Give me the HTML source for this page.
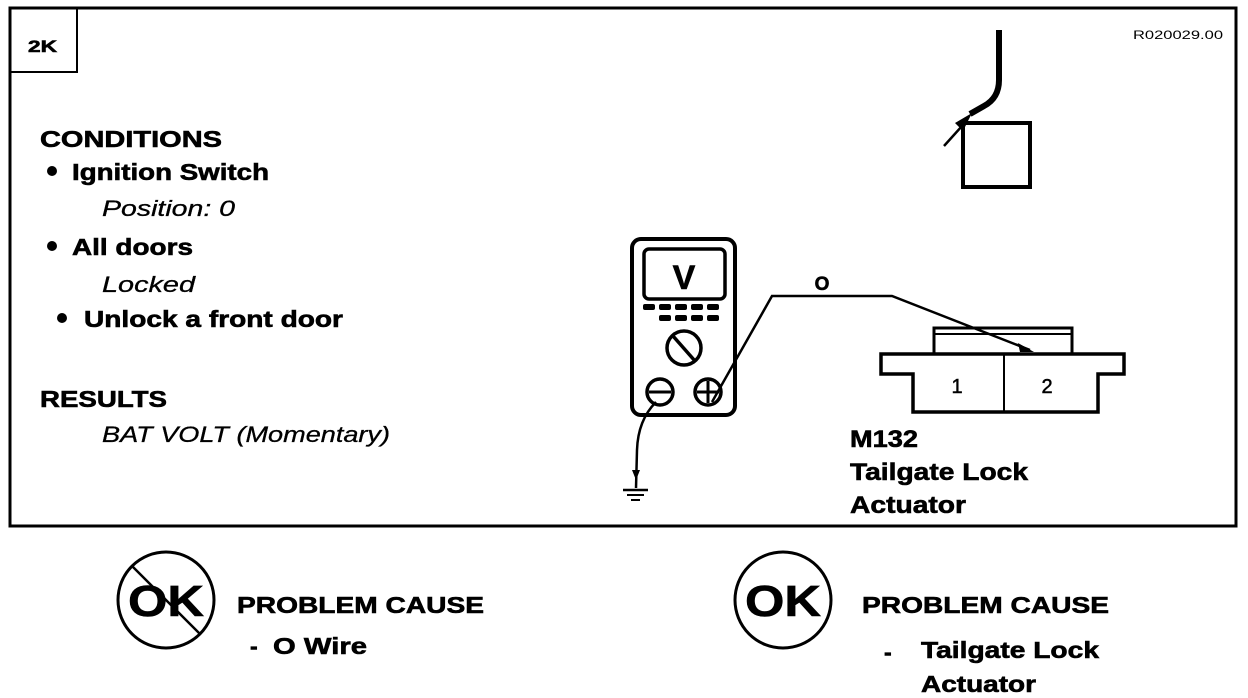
<!DOCTYPE html>
<html><head><meta charset="utf-8"><style>
html,body{margin:0;padding:0;background:#fff;}
svg{display:block;}
text{font-family:"Liberation Sans",Arial,sans-serif;fill:#000;}
.b{font-weight:bold;stroke:#000;stroke-width:0.6;}
.i{font-style:italic;stroke:#000;stroke-width:0.3;}
</style></head><body>
<svg width="1248" height="698" viewBox="0 0 1248 698" xmlns="http://www.w3.org/2000/svg">
<rect x="10" y="8" width="1226" height="518" fill="none" stroke="#000" stroke-width="3"/>
<rect x="10" y="8" width="67" height="64" fill="none" stroke="#000" stroke-width="2"/>
<text x="28" y="52" class="b" font-size="17" textLength="29" lengthAdjust="spacingAndGlyphs">2K</text>
<text x="1133" y="39" font-size="12" textLength="90" lengthAdjust="spacingAndGlyphs">R020029.00</text>

<text x="40" y="147" class="b" font-size="23" textLength="182" lengthAdjust="spacingAndGlyphs">CONDITIONS</text>
<circle cx="52" cy="171" r="5"/>
<text x="72" y="180" class="b" font-size="23" textLength="197" lengthAdjust="spacingAndGlyphs">Ignition Switch</text>
<text x="102" y="216" class="i" font-size="22" textLength="133" lengthAdjust="spacingAndGlyphs">Position: 0</text>
<circle cx="52" cy="246" r="5"/>
<text x="72" y="255" class="b" font-size="23" textLength="121" lengthAdjust="spacingAndGlyphs">All doors</text>
<text x="102" y="292" class="i" font-size="22" textLength="93" lengthAdjust="spacingAndGlyphs">Locked</text>
<circle cx="62" cy="318" r="5"/>
<text x="84" y="327" class="b" font-size="23" textLength="259" lengthAdjust="spacingAndGlyphs">Unlock a front door</text>
<text x="40" y="407" class="b" font-size="23" textLength="127" lengthAdjust="spacingAndGlyphs">RESULTS</text>
<text x="102" y="442" class="i" font-size="22" textLength="288" lengthAdjust="spacingAndGlyphs">BAT VOLT (Momentary)</text>

<!-- hose and square -->
<path d="M999 30 L999 80 Q999 98 984 106 L970 114" fill="none" stroke="#000" stroke-width="6"/>
<line x1="944" y1="146" x2="962" y2="126" stroke="#000" stroke-width="2.5"/>
<polygon points="972,113 955,123 963,131" fill="#000"/>
<rect x="963" y="123" width="67" height="64" fill="none" stroke="#000" stroke-width="4"/>

<!-- meter -->
<rect x="632" y="239" width="103" height="176" rx="9" fill="none" stroke="#000" stroke-width="4"/>
<rect x="644" y="249" width="81" height="50" rx="5" fill="none" stroke="#000" stroke-width="3.5"/>
<text x="684" y="289" class="b" font-size="34" text-anchor="middle">V</text>
<g fill="#000">
<rect x="643" y="304" width="12" height="6" rx="2"/><rect x="659" y="304" width="12" height="6" rx="2"/><rect x="675" y="304" width="12" height="6" rx="2"/><rect x="691" y="304" width="12" height="6" rx="2"/><rect x="707" y="304" width="12" height="6" rx="2"/>
<rect x="659" y="315" width="12" height="6" rx="2"/><rect x="675" y="315" width="12" height="6" rx="2"/><rect x="691" y="315" width="12" height="6" rx="2"/><rect x="707" y="315" width="12" height="6" rx="2"/>
</g>
<circle cx="684" cy="348" r="17" fill="none" stroke="#000" stroke-width="3.5"/>
<line x1="673" y1="336" x2="695" y2="361" stroke="#000" stroke-width="3.5"/>
<circle cx="660" cy="392" r="13" fill="none" stroke="#000" stroke-width="3.5"/>
<line x1="649" y1="392" x2="671" y2="392" stroke="#000" stroke-width="3"/>
<circle cx="708" cy="392" r="13" fill="none" stroke="#000" stroke-width="3.5"/>
<line x1="697" y1="392" x2="719" y2="392" stroke="#000" stroke-width="3"/>
<line x1="708" y1="381" x2="708" y2="403" stroke="#000" stroke-width="3"/>

<!-- wires -->
<polyline points="712,402 772,296 892,296 1030,350" fill="none" stroke="#000" stroke-width="2.5"/>
<polygon points="1034,352 1018,343 1020,352" fill="#000"/>
<text x="822" y="290" class="b" font-size="19" text-anchor="middle">O</text>
<path d="M656 402 Q638 420 637 450 L636 488" fill="none" stroke="#000" stroke-width="2.5"/>
<polygon points="632,470 640,470 636,480" fill="#000"/>
<line x1="623" y1="490" x2="648" y2="490" stroke="#000" stroke-width="2.5"/>
<line x1="627" y1="495" x2="644" y2="495" stroke="#000" stroke-width="2"/>
<line x1="631" y1="500" x2="640" y2="500" stroke="#000" stroke-width="2"/>

<!-- connector -->
<rect x="934" y="328" width="138" height="26" fill="none" stroke="#000" stroke-width="3"/>
<line x1="934" y1="334" x2="1072" y2="334" stroke="#000" stroke-width="2"/>
<polygon points="881,354 1124,354 1124,374 1098,374 1098,412 913,412 913,374 881,374" fill="#fff" stroke="#000" stroke-width="3.5"/>
<line x1="1004" y1="354" x2="1004" y2="412" stroke="#000" stroke-width="2"/>
<text x="957" y="393" font-size="20" text-anchor="middle" stroke="#000" stroke-width="0.5">1</text>
<text x="1047" y="393" font-size="20" text-anchor="middle" stroke="#000" stroke-width="0.5">2</text>
<text x="850" y="447" class="b" font-size="24" textLength="68" lengthAdjust="spacingAndGlyphs">M132</text>
<text x="850" y="480" class="b" font-size="24" textLength="178" lengthAdjust="spacingAndGlyphs">Tailgate Lock</text>
<text x="850" y="513" class="b" font-size="24" textLength="116" lengthAdjust="spacingAndGlyphs">Actuator</text>

<!-- bottom left -->
<circle cx="166" cy="600" r="48" fill="none" stroke="#000" stroke-width="3"/>
<line x1="132" y1="566" x2="200" y2="634" stroke="#000" stroke-width="2.5"/>
<text x="166" y="616" class="b" font-size="44" text-anchor="middle" textLength="76" lengthAdjust="spacingAndGlyphs">OK</text>
<text x="237" y="613" class="b" font-size="23" textLength="247" lengthAdjust="spacingAndGlyphs">PROBLEM CAUSE</text>
<text x="250" y="654" class="b" font-size="23">-</text>
<text x="273" y="654" class="b" font-size="23" textLength="94" lengthAdjust="spacingAndGlyphs">O Wire</text>

<!-- bottom right -->
<circle cx="783" cy="600" r="48" fill="none" stroke="#000" stroke-width="3"/>
<text x="783" y="616" class="b" font-size="44" text-anchor="middle" textLength="76" lengthAdjust="spacingAndGlyphs">OK</text>
<text x="862" y="613" class="b" font-size="23" textLength="247" lengthAdjust="spacingAndGlyphs">PROBLEM CAUSE</text>
<text x="884" y="660" class="b" font-size="23">-</text>
<text x="921" y="658" class="b" font-size="23" textLength="178" lengthAdjust="spacingAndGlyphs">Tailgate Lock</text>
<text x="921" y="692" class="b" font-size="23" textLength="115" lengthAdjust="spacingAndGlyphs">Actuator</text>
</svg>
</body></html>
